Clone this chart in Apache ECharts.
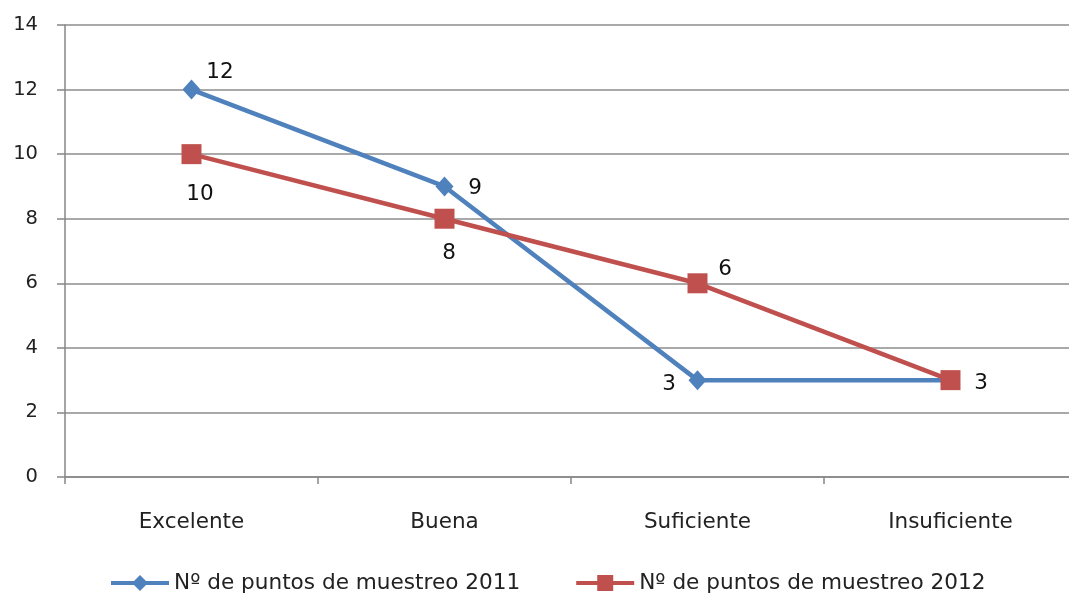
<!DOCTYPE html>
<html><head><meta charset="utf-8">
<script src="https://cdn.jsdelivr.net/npm/echarts@6/dist/echarts.min.js"></script>
<style>html,body{margin:0;padding:0;background:#fff;overflow:hidden}#c{width:1090px;height:599px}</style>
</head><body><div id="c"></div>
<script>
const categories = ['Excelente', 'Buena', 'Suficiente', 'Insuficiente'];
const series2011 = [12, 9, 3, 3];
const series2012 = [10, 8, 6, 3];
const name2011 = 'Nº de puntos de muestreo 2011';
const name2012 = 'Nº de puntos de muestreo 2012';
const yTicks = [0, 2, 4, 6, 8, 10, 12, 14];

const labelPos2011 = [[28.5, -17], [30.5, 2], [-28.5, 4], null];
const labelPos2012 = [[8.5, 40], [4.5, 35], [27.5, -14], [30.5, 3]];
const FONT = 'DejaVu Sans';
const FS = 21.5;
const chart = echarts.init(document.getElementById('c'));
function mk(values, offs) {
  return values.map((v, i) => ({
    value: v,
    label: offs[i] ? {show: true, offset: offs[i]} : {show: false}
  }));
}
chart.setOption({
  animation: false,
  textStyle: {fontFamily: FONT},
  grid: {left: 65, top: 25, width: 1012, height: 452, containLabel: false},
  legend: {
    top: 567, left: 104, itemGap: 54, itemWidth: 58, itemHeight: 20,
    lineStyle: {width: 4},
    textStyle: {fontFamily: FONT, fontSize: 21.6, color: '#222'},
    data: [name2011, name2012]
  },
  xAxis: {
    type: 'category', data: categories, boundaryGap: true,
    axisLine: {lineStyle: {color: '#868686', width: 1.5}},
    axisTick: {show: true, length: 7, lineStyle: {color: '#868686', width: 1.5}},
    axisLabel: {fontFamily: FONT, fontSize: FS, color: '#222', margin: 34}
  },
  yAxis: {
    type: 'value', min: 0, max: 14, interval: 2,
    axisLine: {show: true, lineStyle: {color: '#868686', width: 1.5}},
    axisTick: {show: true, length: 8, lineStyle: {color: '#868686', width: 1.5}},
    splitLine: {lineStyle: {color: '#8c8c8c', width: 1.5}},
    axisLabel: {fontFamily: FONT, fontSize: 19.5, color: '#222', margin: 27,
      formatter: v => yTicks.includes(v) ? String(v) : ''}
  },
  series: [
    {
      name: name2011, type: 'line', data: mk(series2011, labelPos2011),
      symbol: 'diamond', symbolSize: [18, 20],
      lineStyle: {color: '#4f81bd', width: 4.5},
      itemStyle: {color: '#4f81bd'},
      label: {position: 'inside', fontFamily: FONT, fontSize: FS, color: '#111'},
      z: 2
    },
    {
      name: name2012, type: 'line', data: mk(series2012, labelPos2012),
      symbol: 'rect', symbolSize: 20,
      lineStyle: {color: '#c0504d', width: 4.5},
      itemStyle: {color: '#c0504d'},
      label: {position: 'inside', fontFamily: FONT, fontSize: FS, color: '#111'},
      z: 3
    }
  ]
});
</script></body></html>
